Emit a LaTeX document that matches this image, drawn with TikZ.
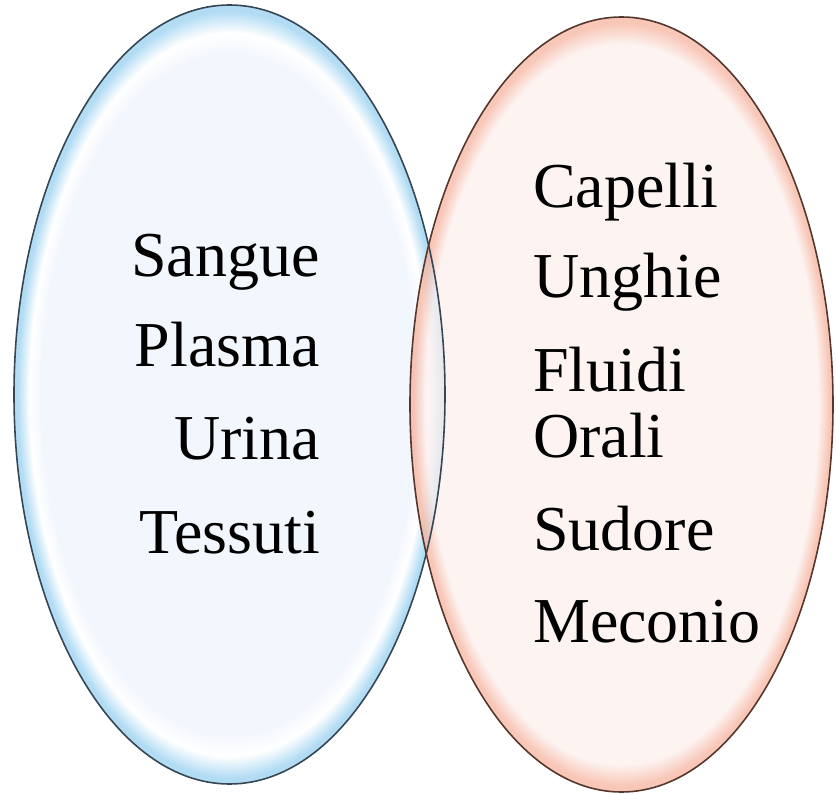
\documentclass[tikz,border=0pt]{standalone}
\usepackage{fontspec}
\setmainfont{Liberation Serif}
\definecolor{bluepale}{RGB}{242,246,253}
\definecolor{blueedge}{RGB}{178,220,244}
\definecolor{bluerim}{RGB}{55,70,85}
\definecolor{redpale}{RGB}{252,240,238}
\definecolor{rededge}{RGB}{246,180,160}
\definecolor{redrim}{RGB}{85,55,45}
\pgfdeclareradialshading{blueset}{\pgfpoint{0bp}{0bp}}{color(0bp)=(bluepale); color(21.8bp)=(bluepale); color(23.2bp)=(white); color(24.6bp)=(blueedge); color(25bp)=(blueedge); color(50bp)=(blueedge)}
\pgfdeclareradialshading{redset}{\pgfpoint{0bp}{0bp}}{color(0bp)=(redpale); color(21.8bp)=(redpale); color(23.2bp)=(redpale); color(24.6bp)=(rededge); color(25bp)=(rededge); color(50bp)=(rededge)}
\begin{document}
\begin{tikzpicture}[
  x=1pt, y=-1pt,
  item/.style={font=\fontsize{64}{64}\selectfont, inner sep=0pt},
  rim/.style={line width=1.6pt}
]
  \useasboundingbox (0,0) rectangle (836,794);

  % Insiemi: sinistro azzurro, destro salmone
  \shade[shading=blueset] (229.5,394.5) ellipse [x radius=215.5, y radius=389.5];
  \shade[shading=redset, opacity=0.75] (621.5,404.5) ellipse [x radius=211.5, y radius=387.5];
  \draw[rim, draw=bluerim] (229.5,394.5) ellipse [x radius=215.5, y radius=389.5];
  \draw[rim, draw=redrim] (621.5,404.5) ellipse [x radius=211.5, y radius=387.5];

  % Matrici a sinistra
  \node[item, anchor=base east] (sangue) at (320,277) {Sangue};
  \node[item, anchor=base east] (plasma) at (320,367) {Plasma};
  \node[item, anchor=base east] (urina) at (320,460) {Urina};
  \node[item, anchor=base east] (tessuti) at (320,553) {Tessuti};

  % Matrici a destra
  \node[item, anchor=base west] (capelli) at (533,208) {Capelli};
  \node[item, anchor=base west] (unghie) at (533,298) {Unghie};
  \node[item, anchor=base west] (fluidi) at (533,392) {Fluidi};
  \node[item, anchor=base west] (orali) at (533,457) {Orali};
  \node[item, anchor=base west] (sudore) at (533,550) {Sudore};
  \node[item, anchor=base west] (meconio) at (533,642) {Meconio};
\end{tikzpicture}
\end{document}
